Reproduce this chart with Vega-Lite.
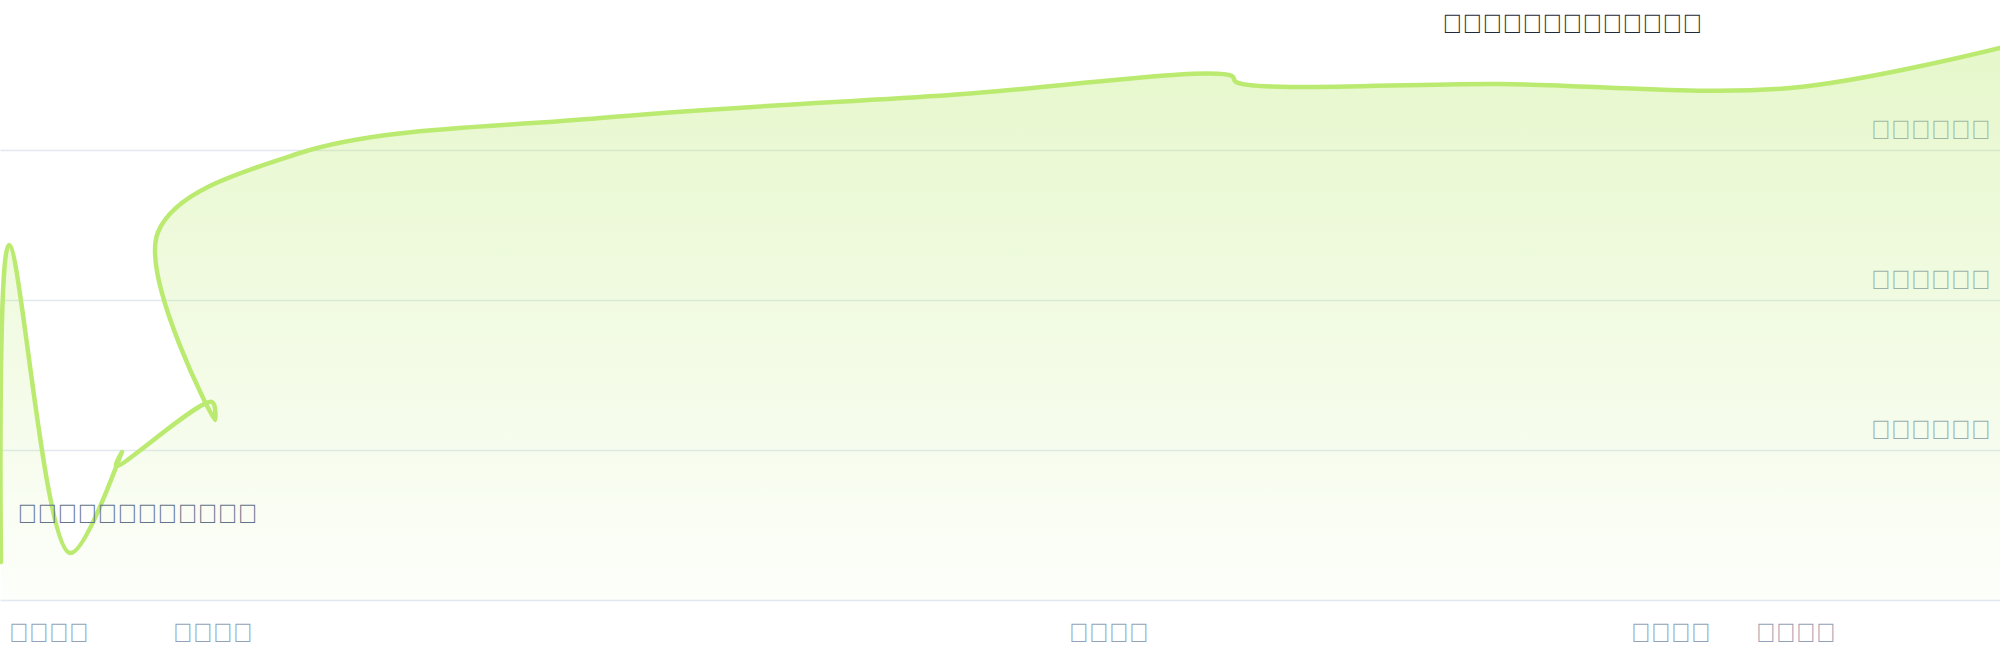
{
  "$schema": "https://vega.github.io/schema/vega-lite/v6.json",
  "width": 2000,
  "height": 600,
  "autosize": {"type": "none"},
  "padding": {"left": 0, "right": 0, "top": 0, "bottom": 60},
  "background": "white",
  "config": {"view": {"stroke": null}},
  "datasets": {
    "series": [
      {"i": 1, "x": 1, "v": 25300},
      {"i": 2, "x": 9, "v": 236700},
      {"i": 3, "x": 70, "v": 31300},
      {"i": 4, "x": 122, "v": 98700},
      {"i": 5, "x": 116, "v": 89300},
      {"i": 6, "x": 212, "v": 132000},
      {"i": 7, "x": 215, "v": 120000},
      {"i": 8, "x": 158, "v": 245300},
      {"i": 9, "x": 300, "v": 298000},
      {"i": 10, "x": 600, "v": 321300},
      {"i": 11, "x": 950, "v": 336700},
      {"i": 12, "x": 1232, "v": 349300},
      {"i": 13, "x": 1236, "v": 345300},
      {"i": 14, "x": 1500, "v": 344000},
      {"i": 15, "x": 1790, "v": 341300},
      {"i": 16, "x": 2000, "v": 368000}
    ],
    "notes": [
      {"x": 1572, "v": 378000, "label": "\uE000\uE001\uE002\uE003\uE004\uE005\uE006\uE007\uE008\uE009\uE00A\uE00B\uE00C", "kind": "title"},
      {"x": 17, "v": 51300, "label": "\uE010\uE011\uE012\uE013\uE014\uE015\uE016\uE017\uE018\uE019\uE01A\uE01B", "kind": "note"}
    ]
  },
  "layer": [
    {
      "data": {"name": "series"},
      "mark": {
        "type": "area",
        "interpolate": "catmull-rom",
        "fill": {
          "gradient": "linear",
          "x1": 0, "y1": 0, "x2": 0, "y2": 1,
          "stops": [
            {"offset": 0, "color": "rgba(187,234,112,0.36)"},
            {"offset": 1, "color": "rgba(187,234,112,0.03)"}
          ]
        }
      },
      "encoding": {
        "x": {
          "field": "x", "type": "quantitative",
          "scale": {"domain": [0, 2000], "nice": false, "zero": false},
          "axis": {
            "orient": "bottom", "title": null, "grid": false, "domain": false,
            "ticks": false, "tickSize": 0,
            "values": [48, 212, 1108, 1670, 1795],
            "labelExpr": "datum.value == 48 ? '\uE020\uE021\uE022\uE023' : datum.value == 212 ? '\uE024\uE025\uE026\uE027' : datum.value == 1108 ? '\uE028\uE029\uE02A\uE02B' : datum.value == 1670 ? '\uE02C\uE02D\uE02E\uE02F' : '\uE030\uE031\uE032\uE033'",
            "labelFont": "Liberation Sans", "labelFontSize": 26.7, "labelColor": "#94a3b8",
            "labelBaseline": "alphabetic", "labelPadding": 41, "labelFlush": false, "labelOverlap": false
          }
        },
        "y": {
          "field": "v", "type": "quantitative",
          "scale": {"domain": [0, 400000], "nice": false},
          "axis": {
            "orient": "right", "title": null, "domain": false, "ticks": false, "tickSize": 0,
            "values": [0, 100000, 200000, 300000],
            "grid": true, "gridColor": "#e2e8f0", "gridWidth": 1.5,
            "labelExpr": "datum.value == 0 ? '' : datum.value == 100000 ? '\uE040\uE041\uE042\uE043\uE044\uE045' : datum.value == 200000 ? '\uE046\uE047\uE048\uE049\uE04A\uE04B' : '\uE04C\uE04D\uE04E\uE04F\uE050\uE051'",
            "labelAlign": "right", "labelBaseline": "alphabetic", "labelPadding": -10, "labelOffset": -12,
            "labelFont": "Liberation Sans", "labelFontSize": 26.7, "labelColor": "#94a3b8"
          }
        },
        "order": {"value": null}
      }
    },
    {
      "data": {"name": "series"},
      "mark": {"type": "line", "interpolate": "catmull-rom", "stroke": "#bbea70", "strokeWidth": 4.5, "strokeCap": "round", "strokeJoin": "round"},
      "encoding": {
        "x": {"field": "x", "type": "quantitative"},
        "y": {"field": "v", "type": "quantitative", "stack": null},
        "order": {"field": "i", "type": "quantitative"}
      }
    },
    {
      "data": {"name": "notes"},
      "transform": [{"filter": "datum.kind == 'title'"}],
      "mark": {"type": "text", "align": "center", "baseline": "alphabetic", "font": "Liberation Sans", "fontSize": 26.7, "color": "#1e293b"},
      "encoding": {
        "x": {"field": "x", "type": "quantitative"},
        "y": {"field": "v", "type": "quantitative"},
        "text": {"field": "label"}
      }
    },
    {
      "data": {"name": "notes"},
      "transform": [{"filter": "datum.kind == 'note'"}],
      "mark": {"type": "text", "align": "left", "baseline": "alphabetic", "font": "Liberation Sans", "fontSize": 26.7, "color": "#64748b"},
      "encoding": {
        "x": {"field": "x", "type": "quantitative"},
        "y": {"field": "v", "type": "quantitative"},
        "text": {"field": "label"}
      }
    }
  ]
}
